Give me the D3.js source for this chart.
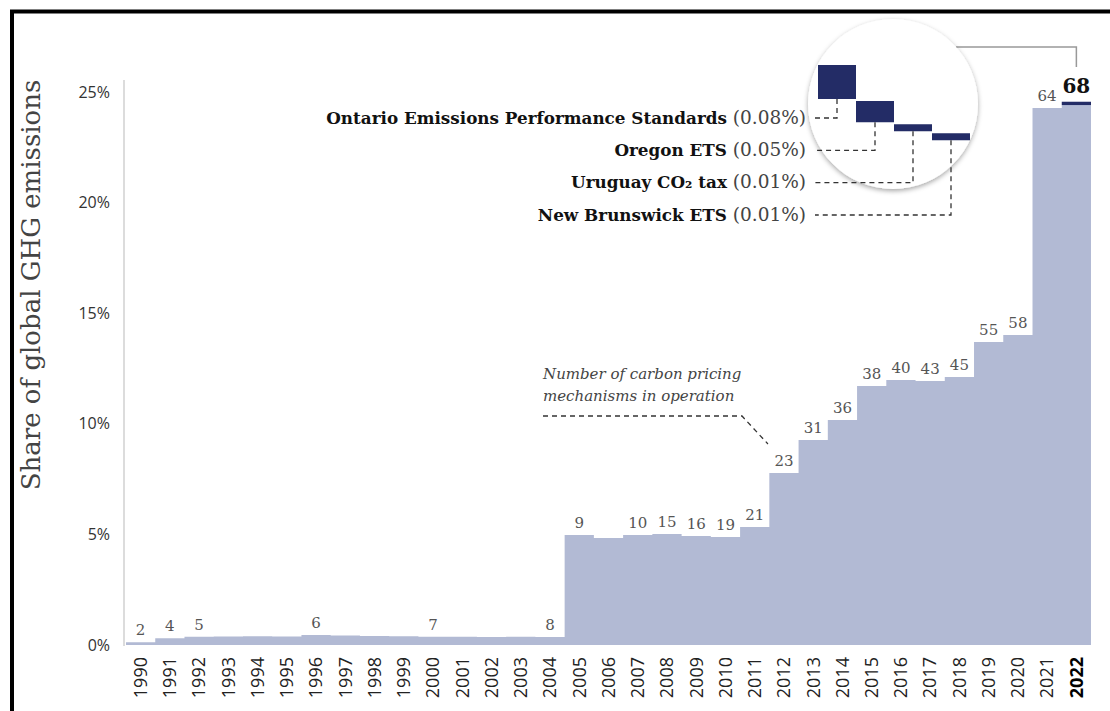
<!DOCTYPE html>
<html>
<head>
<meta charset="utf-8">
<script src="https://cdn.jsdelivr.net/npm/d3@7"></script>
<style>
  body { margin: 0; background: #fff; }
  svg { display: block; }
</style>
</head>
<body>
<div id="chart"></div>
<script>
// ---------- Data ----------
const years = [1990, 1991, 1992, 1993, 1994, 1995, 1996, 1997, 1998, 1999, 2000, 2001, 2002, 2003, 2004,
               2005, 2006, 2007, 2008, 2009, 2010, 2011, 2012, 2013, 2014, 2015, 2016, 2017, 2018, 2019,
               2020, 2021, 2022];
// share of global GHG emissions covered (%), existing instruments
const shares = [0.12, 0.30, 0.37, 0.38, 0.40, 0.38, 0.45, 0.43, 0.41, 0.40, 0.37, 0.37, 0.36, 0.37, 0.36,
                4.97, 4.84, 4.97, 5.02, 4.93, 4.88, 5.33, 7.78, 9.27, 10.17, 11.71, 11.98, 11.93, 12.12, 13.70,
                14.01, 24.28, 24.41];
// number of carbon pricing mechanisms in operation (label only where it changes)
const counts = [2, 4, 5, null, null, null, 6, null, null, null, 7, null, null, null, 8,
                9, null, 10, 15, 16, 19, 21, 23, 31, 36, 38, 40, 43, 45, 55,
                58, 64, 68];
// new instruments in 2022
const newNames = ["Ontario Emissions Performance Standards", "Oregon ETS", "Uruguay CO\u2082 tax", "New Brunswick ETS"];
const newShares = [0.08, 0.05, 0.01, 0.01];
const yTicks = [0, 5, 10, 15, 20, 25];

const width = 1110, height = 711;
const areaColor = "#b2bad4", newColor = "#232c66";
const serif = "'DejaVu Serif', serif", sans = "'Open Sans', sans-serif";

const svg = d3.select("#chart").append("svg")
    .attr("width", width)
    .attr("height", height);

let defs = svg.append("defs");
let shadow = defs.append("filter").attr("id", "shadow")
    .attr("x", "-20%").attr("y", "-20%").attr("width", "140%").attr("height", "140%");
shadow.append("feDropShadow")
    .attr("dx", 0).attr("dy", 2).attr("stdDeviation", 2.5)
    .attr("flood-color", "#000").attr("flood-opacity", 0.35);

// frame
svg.append("path")
    .attr("d", "M12,711 V11.5 H1110")
    .attr("fill", "none")
    .attr("stroke", "#000")
    .attr("stroke-width", 4);

// Scales
let x = d3.scaleBand().domain(years).range([126, 1091]).padding(0);
let y = d3.scaleLinear().domain([0, 25]).range([645, 92]);

// y axis line
svg.append("line")
    .attr("x1", 124).attr("x2", 124)
    .attr("y1", 80).attr("y2", 646)
    .attr("stroke", "#dcdcdc")
    .attr("stroke-width", 2);

// y axis labels
let yAxis = svg.append("g")
    .attr("transform", "translate(110,0)")
    .call(d3.axisLeft(y).tickValues(yTicks).tickSize(0).tickPadding(0).tickFormat(d => d + "%"));
yAxis.select(".domain").remove();
yAxis.selectAll("text")
    .style("font-family", sans)
    .style("font-size", "16px")
    .attr("fill", "#333");

// y title
svg.append("text")
    .attr("transform", "translate(40,285) rotate(-90)")
    .attr("text-anchor", "middle")
    .style("font-family", serif)
    .style("font-size", "26px")
    .attr("fill", "#444")
    .text("Share of global GHG emissions");

// step area
let stepData = years.map((yr, i) => ({x: x(yr), v: shares[i]}));
stepData.push({x: x(2022) + x.bandwidth(), v: shares[shares.length - 1]});
let area = d3.area()
    .x(d => d.x)
    .y0(y(0))
    .y1(d => y(d.v))
    .curve(d3.curveStepAfter);
svg.append("path")
    .datum(stepData)
    .attr("d", area)
    .attr("fill", areaColor);

// 2022 new instruments cap
let newTotal = d3.sum(newShares);
let base22 = shares[shares.length - 1];
svg.append("rect")
    .attr("x", x(2022))
    .attr("width", x.bandwidth())
    .attr("y", y(base22 + newTotal))
    .attr("height", y(base22) - y(base22 + newTotal))
    .attr("fill", newColor);

// x axis labels
let xAxis = svg.append("g")
    .attr("transform", "translate(0,651)")
    .call(d3.axisBottom(x).tickSize(0).tickPadding(0));
xAxis.select(".domain").remove();
xAxis.selectAll("text")
    .attr("transform", "rotate(-90)")
    .attr("x", -6)
    .attr("y", 0)
    .attr("dy", "0.35em")
    .style("text-anchor", "end")
    .style("font-family", sans)
    .style("font-size", "18px")
    .style("font-weight", d => d === 2022 ? "700" : "400")
    .attr("fill", d => d === 2022 ? "#000" : "#222");

// count labels
let labelData = years.map((yr, i) => ({year: yr, v: i === years.length - 1 ? base22 + newTotal : shares[i], n: counts[i]}))
    .filter(d => d.n !== null);
svg.append("g").selectAll("text")
    .data(labelData)
    .enter()
    .append("text")
    .attr("x", d => x(d.year) + x.bandwidth() / 2)
    .attr("y", d => y(d.v) - (d.year === 2022 ? 9 : 7))
    .attr("text-anchor", "middle")
    .style("font-family", serif)
    .style("font-size", d => d.year === 2022 ? "20px" : "15px")
    .style("font-weight", d => d.year === 2022 ? "700" : "300")
    .attr("fill", d => d.year === 2022 ? "#111" : "#555")
    .text(d => d.n);

// annotation
let note = svg.append("text")
    .style("font-family", serif)
    .style("font-style", "italic")
    .style("font-size", "15px")
    .attr("fill", "#444");
note.append("tspan").attr("x", 543).attr("y", 379).text("Number of carbon pricing");
note.append("tspan").attr("x", 543).attr("y", 401).text("mechanisms in operation");
svg.append("path")
    .attr("d", `M543,416 H742 L${x(2012) + x.bandwidth() / 2 - 16},444`)
    .attr("fill", "none")
    .attr("stroke", "#333")
    .attr("stroke-width", 1.3)
    .attr("stroke-dasharray", "5,4");

// ---------- Magnifier ----------
const cx = 893, cy = 104, r = 85;
svg.append("path")
    .attr("d", `M${cx + Math.sqrt(r * r - 57 * 57)},47 H${x(2022) + x.bandwidth() / 2} V67`)
    .attr("fill", "none")
    .attr("stroke", "#999")
    .attr("stroke-width", 1.5);
svg.append("circle")
    .attr("cx", cx).attr("cy", cy).attr("r", r)
    .attr("fill", "#fff")
    .attr("filter", "url(#shadow)");

let mag = d3.scaleLinear().domain([0, 0.08]).range([0, 34]);
let magX = d3.scaleBand().domain(newNames).range([818, 970]);
let tops = [];
let cursor = 65;
newShares.forEach(s => {
    let h = Math.max(7, mag(s));
    tops.push({top: cursor, h: h});
    cursor += h + 2;
});
let labelY = d3.scalePoint().domain(newNames).range([118, 215]);

svg.append("g").selectAll("rect")
    .data(newNames)
    .enter()
    .append("rect")
    .attr("x", d => magX(d))
    .attr("width", magX.bandwidth())
    .attr("y", (d, i) => tops[i].top)
    .attr("height", (d, i) => tops[i].h)
    .attr("fill", newColor);

svg.append("g").selectAll("path")
    .data(newNames)
    .enter()
    .append("path")
    .attr("d", (d, i) => `M${magX(d) + magX.bandwidth() / 2},${tops[i].top + tops[i].h} V${labelY(d)} H815`)
    .attr("fill", "none")
    .attr("stroke", "#333")
    .attr("stroke-width", 1.3)
    .attr("stroke-dasharray", "5,4");

let newLabels = svg.append("g").selectAll("text")
    .data(newNames)
    .enter()
    .append("text")
    .attr("x", 806)
    .attr("y", d => labelY(d))
    .attr("dy", "0.35em")
    .attr("text-anchor", "end")
    .style("font-family", serif)
    .attr("fill", "#111");
newLabels.append("tspan")
    .style("font-weight", "700")
    .style("font-size", "16.8px")
    .text(d => d);
newLabels.append("tspan")
    .attr("fill", "#444")
    .style("font-size", "18.5px")
    .text((d, i) => " (" + newShares[i].toFixed(2) + "%)");
</script>
</body>
</html>
